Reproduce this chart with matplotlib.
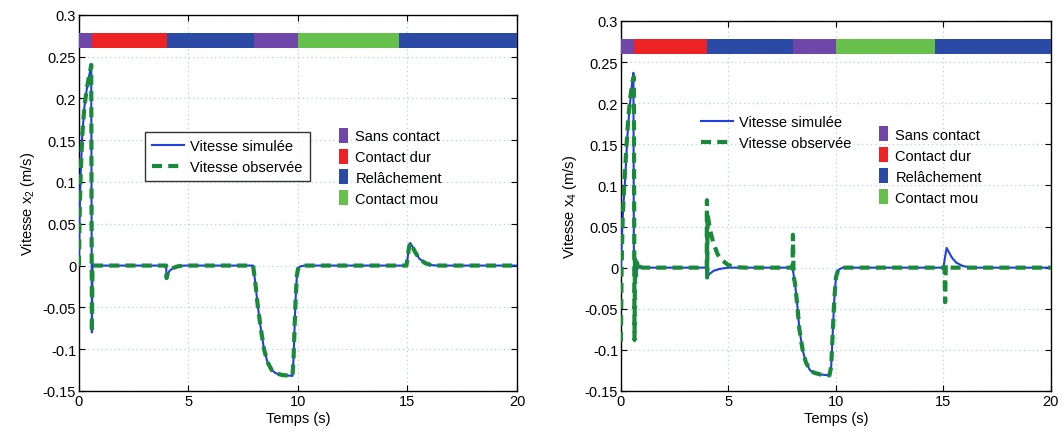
import matplotlib
matplotlib.use("Agg")
import matplotlib.pyplot as plt
from matplotlib.patches import Patch
from matplotlib.lines import Line2D
from matplotlib.ticker import FuncFormatter

plt.rcParams['font.family'] = ['Liberation Sans', 'DejaVu Sans']
plt.rcParams['mathtext.default'] = 'regular'

# ---------------- data ----------------
# phase band: (start, duration) and phase labels
phase_starts = [0.0, 0.6, 4.0, 8.0, 10.0, 14.6]
phase_durations = [0.6, 3.4, 4.0, 2.0, 4.6, 5.4]
phase_names = ["Sans contact", "Contact dur", "Relâchement", "Sans contact", "Contact mou", "Relâchement"]
legend_phases = ["Sans contact", "Contact dur", "Relâchement", "Contact mou"]

# left plot (x2)
t_left = [0, 0.03, 0.08, 0.15, 0.25, 0.35, 0.45, 0.53, 0.56, 0.59, 0.62, 0.7,
          3.98, 4.0, 4.05, 4.15, 4.3, 4.5, 4.8,
          7.95, 8.05, 8.15, 8.3, 8.45, 8.6, 8.8, 9.0, 9.3, 9.75, 9.8, 9.85, 9.9, 9.95, 10.0, 10.1, 10.3,
          14.95, 15.0, 15.07, 15.12, 15.2, 15.35, 15.55, 15.8, 16.1, 16.4, 20]
v_left_sim = [0, 0.06, 0.11, 0.155, 0.19, 0.21, 0.225, 0.235, 0.24, -0.08, 0.0, 0.0,
              0.0, -0.015, -0.01, -0.006, -0.003, -0.001, 0.0,
              0.0, -0.02, -0.045, -0.075, -0.1, -0.115, -0.125, -0.129, -0.131, -0.132, -0.11, -0.07, -0.035, -0.012, -0.004, -0.001, 0.0,
              0.0, 0.008, 0.022, 0.027, 0.024, 0.016, 0.008, 0.003, 0.0005, 0.0, 0.0]
v_left_obs = [0, 0.06, 0.11, 0.155, 0.19, 0.21, 0.225, 0.235, 0.24, -0.08, 0.0, 0.0,
              0.0, -0.015, -0.01, -0.006, -0.003, -0.001, 0.0,
              0.0, -0.02, -0.045, -0.075, -0.1, -0.115, -0.125, -0.129, -0.131, -0.132, -0.11, -0.07, -0.035, -0.012, -0.004, -0.001, 0.0,
              0.0, 0.008, 0.022, 0.027, 0.024, 0.016, 0.008, 0.003, 0.0005, 0.0, 0.0]

# right plot (x4)
t_right_sim = [0, 0.05, 0.1, 0.2, 0.3, 0.4, 0.5, 0.58, 0.61, 0.64, 0.67, 0.7, 0.75, 0.8, 0.9, 1.0,
               3.98, 4.0, 4.1, 4.3, 4.6, 5.0,
               7.98, 8.1, 8.2, 8.3, 8.45, 8.6, 8.8, 9.0, 9.3, 9.7, 9.78, 9.85, 9.92, 10.0, 10.1, 10.3,
               15.0, 15.07, 15.15, 15.25, 15.4, 15.6, 15.9, 16.3, 20]
v_right_sim = [0, 0.04, 0.07, 0.11, 0.16, 0.195, 0.22, 0.237, -0.085, 0.01, -0.008, 0.005, -0.003, 0.001, 0.0, 0.0,
               0.0, -0.012, -0.008, -0.004, -0.0015, 0.0,
               0.0, -0.02, -0.045, -0.075, -0.1, -0.115, -0.125, -0.128, -0.13, -0.131, -0.12, -0.08, -0.04, -0.012, -0.003, 0.0,
               0.0, 0.012, 0.024, 0.019, 0.012, 0.006, 0.002, 0.0, 0.0]
t_right_obs = [0, 0.03, 0.08, 0.15, 0.25, 0.35, 0.45, 0.55, 0.6, 0.63, 0.66, 0.7, 0.75, 0.8, 0.9, 1.0,
               3.99, 4.0, 4.01, 4.03, 4.15, 4.3, 4.5, 4.7, 5.0, 5.4, 5.8,
               7.98, 8.0, 8.03, 8.1, 8.2, 8.3, 8.45, 8.6, 8.8, 9.0, 9.3, 9.7, 9.78, 9.85, 9.92, 10.0, 10.1, 10.3,
               15.05, 15.08, 15.11, 15.2, 20]
v_right_obs = [-0.09, 0.0, 0.06, 0.1, 0.145, 0.185, 0.21, 0.228, 0.232, -0.088, 0.01, -0.01, 0.006, -0.003, 0.001, 0.0,
               0.0, 0.082, -0.012, 0.065, 0.045, 0.03, 0.016, 0.009, 0.003, 0.0005, 0.0,
               0.0, 0.04, -0.01, -0.02, -0.045, -0.075, -0.1, -0.115, -0.125, -0.128, -0.13, -0.131, -0.12, -0.08, -0.04, -0.012, -0.003, 0.0,
               0.0, -0.042, 0.003, 0.0, 0.0]

x_ticks = [0, 5, 10, 15, 20]
y_ticks = [-0.15, -0.1, -0.05, 0, 0.05, 0.1, 0.15, 0.2, 0.25, 0.3]

# ---------------- style ----------------
phase_colors = {"Sans contact": "#6f47a8", "Contact dur": "#ec2224",
                "Relâchement": "#2a4aa6", "Contact mou": "#68c04c"}
sim_color = "#1f3fe0"
obs_color = "#188a3a"

fig = plt.figure(figsize=(10.64, 4.35), dpi=100)
ax1 = fig.add_axes([0.0742, 0.0989, 0.4117, 0.8649])
ax2 = fig.add_axes([0.5836, 0.0989, 0.4041, 0.8506])

fmt = FuncFormatter(lambda v, p: "%g" % v)


def setup(ax, t_sim, v_sim, t_obs, v_obs, ylab, leg_pos, leg_frame, col_pos):
    ax.grid(True, color="#b9cde6", linestyle=(0, (1, 2.5)), linewidth=0.9)
    ax.set_axisbelow(True)
    ax.broken_barh(list(zip(phase_starts, phase_durations)), (0.26, 0.018),
                   facecolors=[phase_colors[n] for n in phase_names], edgecolor="none", zorder=3)
    ax.plot(t_sim, v_sim, color=sim_color, lw=1.5, zorder=4)
    ax.plot(t_obs, v_obs, color=obs_color, lw=3.0, dashes=(2.4, 1.5), zorder=5)
    ax.set_xlim(0, 20)
    ax.set_ylim(-0.15, 0.3)
    ax.set_xticks(x_ticks)
    ax.set_yticks(y_ticks)
    ax.xaxis.set_major_formatter(fmt)
    ax.yaxis.set_major_formatter(fmt)
    ax.tick_params(direction="in", length=4, top=True, right=True, labelsize=10.5, pad=2)
    for s in ax.spines.values():
        s.set_linewidth(1.0)
    ax.set_xlabel("Temps (s)", fontsize=10.5, labelpad=2)
    ax.set_ylabel(ylab, fontsize=10.5, labelpad=4)

    h1 = [Line2D([], [], color=sim_color, lw=1.5),
          Line2D([], [], color=obs_color, lw=3.0, dashes=(2.4, 1.5))]
    leg1 = ax.legend(h1, ["Vitesse simulée", "Vitesse observée"], loc="upper left",
                     bbox_to_anchor=leg_pos, frameon=leg_frame, fancybox=False,
                     fontsize=10.5, handlelength=2.2, handletextpad=0.4, borderpad=0.5,
                     labelspacing=0.45, borderaxespad=0)
    if leg_frame:
        leg1.get_frame().set_edgecolor("black")
        leg1.get_frame().set_linewidth(1.0)
    leg1.set_zorder(10)
    ax.add_artist(leg1)

    h2 = [Patch(facecolor=phase_colors[n], edgecolor="none") for n in legend_phases]
    leg2 = ax.legend(h2, legend_phases, loc="upper left", bbox_to_anchor=col_pos,
                     frameon=False, fontsize=10.5, handlelength=0.62, handleheight=1.2,
                     handletextpad=0.5, labelspacing=0.38, borderpad=0, borderaxespad=0)
    leg2.set_zorder(10)


setup(ax1, t_left, v_left_sim, t_left, v_left_obs, "Vitesse x$_2$ (m/s)",
      (0.151, 0.689), True, (0.594, 0.70))
setup(ax2, t_right_sim, v_right_sim, t_right_obs, v_right_obs, "Vitesse x$_4$ (m/s)",
      (0.17, 0.765), False, (0.60, 0.715))

fig.savefig("out.png", dpi=100)
